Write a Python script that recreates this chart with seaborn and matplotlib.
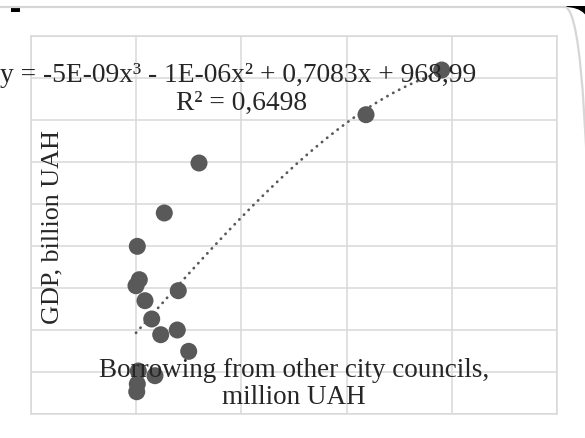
import numpy as np
import pandas as pd
import matplotlib
matplotlib.use("Agg")
import matplotlib.pyplot as plt
import seaborn as sns
from matplotlib.patches import FancyBboxPatch, Rectangle

# ---- data ----
borrowing = [21, 59, -4, 167, 800, 295, 466, 781, 998, 40, 357, 21, 10, 1194, 534, 5808, 4369]
gdp = [1996, 1599, 1527, 1349, 1468, 1131, 944, 1000, 746, 512, 456, 357, 265, 2988, 2393, 4095, 3563]
trend_coef = [-5e-09, -1e-06, 0.7083, 968.99]
equation_text = "y = -5E-09x³ - 1E-06x² + 0,7083x + 968,99"
r2_text = "R² = 0,6498"
x_label_1 = "Borrowing from other city councils,"
x_label_2 = "million UAH"
y_label = "GDP, billion UAH"
x_ticks = [-2000, 0, 2000, 4000, 6000, 8000]
y_ticks = [0, 500, 1000, 1500, 2000, 2500, 3000, 3500, 4000, 4500]

df = pd.DataFrame({"x": borrowing, "y": gdp})

sns.set_style("white")
plt.rcParams['font.family'] = ['Liberation Serif', 'DejaVu Serif']

W, H = 585, 439
fig = plt.figure(figsize=(W / 100, H / 100), dpi=100)
fig.patch.set_facecolor("white")

def fx(px):
    return px / W

def fy(py):
    return 1 - py / H

# frame decoration (screenshot border)
fig.patches.append(Rectangle((fx(565), fy(30)), fx(30), 23 / H, transform=fig.transFigure,
                             facecolor="black", edgecolor="none", zorder=0))
fig.patches.append(Rectangle((fx(11), fy(13)), fx(9), 6 / H, transform=fig.transFigure,
                             facecolor="black", edgecolor="none", zorder=0))
fig.patches.append(FancyBboxPatch((fx(11), fy(470)), fx(580), 462 / H,
                                  boxstyle="round,pad=0,rounding_size=0.045",
                                  transform=fig.transFigure, facecolor="white",
                                  edgecolor="none", zorder=1,
                                  mutation_aspect=W / H))
fig.patches.append(FancyBboxPatch((fx(-30), fy(470)), fx(621), 462 / H,
                                  boxstyle="round,pad=0,rounding_size=0.045",
                                  transform=fig.transFigure, facecolor="none",
                                  edgecolor="#d6d6d6", linewidth=1.6, zorder=1.5,
                                  mutation_aspect=W / H))

ax = fig.add_axes([fx(31), fy(415), fx(557) - fx(31), fy(37) - fy(415)])
ax.set_facecolor("none")
ax.set_zorder(2)

sns.scatterplot(data=df, x="x", y="y", ax=ax, color="#595959", s=150,
                edgecolor="none", zorder=3, legend=False)

xs = np.linspace(min(borrowing), max(borrowing), 300)
ys = np.polyval(trend_coef, xs)
ax.plot(xs, ys, color="#595959", linewidth=2.0, linestyle=(0, (0.1, 2.3)),
        dash_capstyle="round", zorder=4)

ax.set_xlim(x_ticks[0], x_ticks[-1])
ax.set_ylim(y_ticks[0], y_ticks[-1])
ax.set_xticks(x_ticks)
ax.set_yticks(y_ticks)
ax.tick_params(length=0, labelbottom=False, labelleft=False)
ax.grid(True, color="#d9d9d9", linewidth=1.1)
ax.set_axisbelow(True)
for sp in ax.spines.values():
    sp.set_color("#d9d9d9")
    sp.set_linewidth(1.1)
ax.set_xlabel("")
ax.set_ylabel("")

fs = 19.8
fig.text(fx(238), fy(82), equation_text, ha="center", va="baseline", fontsize=fs, zorder=5)
fig.text(fx(242), fy(110), r2_text, ha="center", va="baseline", fontsize=fs, zorder=5)
fig.text(fx(294), fy(377), x_label_1, ha="center", va="baseline", fontsize=19.5, zorder=5)
fig.text(fx(294), fy(404), x_label_2, ha="center", va="baseline", fontsize=19.5, zorder=5)
fig.text(fx(52), fy(227), y_label, ha="center", va="center", rotation=90, fontsize=18.8, zorder=5)

fig.savefig("out.png", dpi=100)
